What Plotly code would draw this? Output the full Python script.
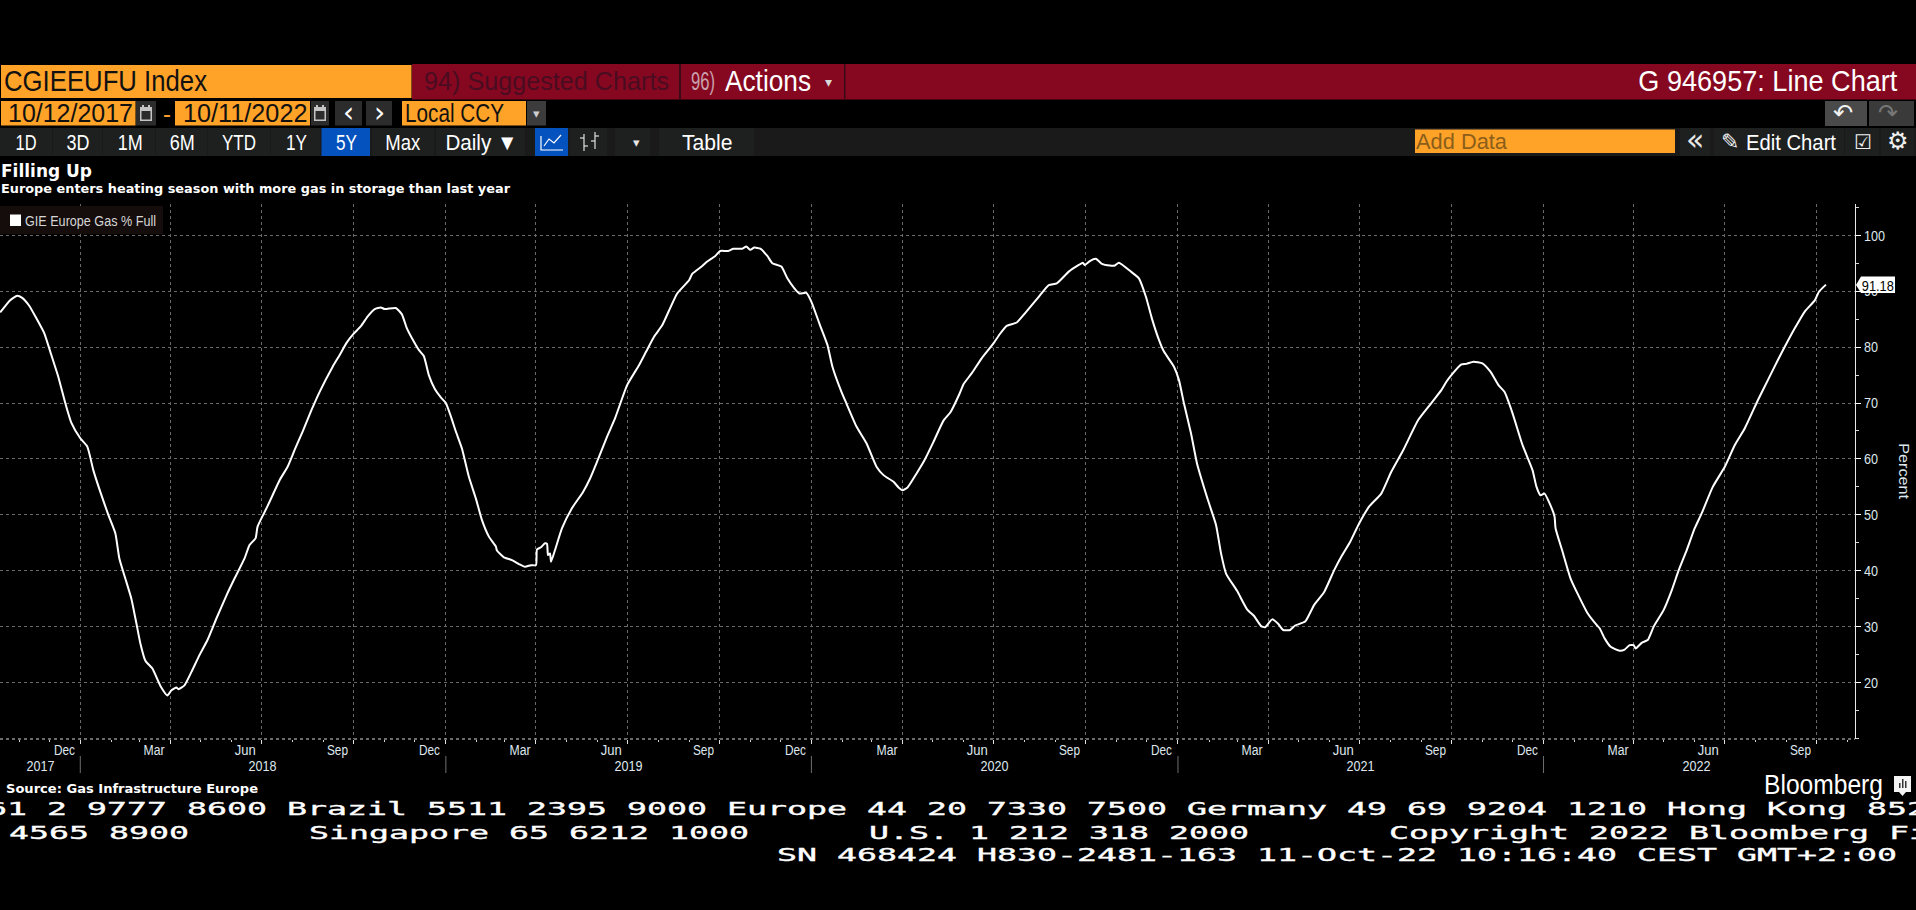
import json
import plotly.graph_objects as go

dates = [
"2017-10-13","2017-10-23","2017-10-30","2017-11-04","2017-11-11","2017-11-18","2017-11-26","2017-12-02","2017-12-10","2017-12-17","2017-12-23",
"2018-01-01","2018-01-08","2018-01-14","2018-01-21","2018-01-29","2018-02-05","2018-02-09","2018-02-16","2018-02-21","2018-02-26","2018-03-02","2018-03-07","2018-03-14","2018-03-22","2018-03-29",
"2018-04-02","2018-04-07","2018-04-09","2018-04-15","2018-04-22","2018-04-30","2018-05-08","2018-05-17","2018-05-27","2018-06-04","2018-06-14","2018-06-19","2018-06-25","2018-06-27",
"2018-07-06","2018-07-12","2018-07-19","2018-07-27","2018-08-03","2018-08-11","2018-08-20","2018-08-28","2018-09-10","2018-09-17","2018-09-24",
"2018-10-01","2018-10-08","2018-10-15","2018-10-22","2018-10-28","2018-11-01","2018-11-12","2018-11-18","2018-11-23","2018-11-30","2018-12-05","2018-12-10","2018-12-15","2018-12-21","2018-12-27",
"2019-01-01","2019-01-06","2019-01-11","2019-01-17","2019-01-24","2019-01-31","2019-02-06","2019-02-13","2019-02-20","2019-02-21","2019-02-28","2019-03-08","2019-03-15","2019-03-21","2019-03-27",
"2019-04-01","2019-04-02","2019-04-06","2019-04-10","2019-04-12","2019-04-13","2019-04-15","2019-04-16","2019-04-20","2019-04-27","2019-05-07","2019-05-18","2019-05-25","2019-06-01","2019-06-11","2019-06-19",
"2019-07-01","2019-07-13","2019-07-20","2019-07-28","2019-08-05","2019-08-12","2019-08-20","2019-09-01","2019-09-04","2019-09-14","2019-09-19","2019-09-27",
"2019-10-02","2019-10-10","2019-10-15","2019-10-24","2019-10-28","2019-11-01","2019-11-05","2019-11-11","2019-11-18","2019-11-23","2019-12-02","2019-12-08","2019-12-15","2019-12-20","2019-12-27",
"2020-01-01","2020-01-09","2020-01-17","2020-01-22","2020-01-31","2020-02-05","2020-02-15","2020-02-25","2020-03-06","2020-03-13","2020-03-23","2020-03-28",
"2020-04-01","2020-04-06","2020-04-15","2020-04-23","2020-05-02","2020-05-12","2020-05-19","2020-05-28","2020-06-01","2020-06-09","2020-06-19",
"2020-07-01","2020-07-07","2020-07-14","2020-07-24","2020-08-01","2020-08-15","2020-08-25","2020-09-02","2020-09-14","2020-09-24","2020-09-28","2020-09-30",
"2020-10-05","2020-10-11","2020-10-17","2020-10-25","2020-10-30","2020-11-03","2020-11-15","2020-11-23","2020-11-30","2020-12-06","2020-12-13","2020-12-18","2020-12-28",
"2021-01-02","2021-01-07","2021-01-14","2021-01-20","2021-01-31","2021-02-08","2021-02-13","2021-02-18","2021-03-01","2021-03-11","2021-03-18","2021-03-25","2021-03-29",
"2021-04-05","2021-04-11","2021-04-16","2021-04-23","2021-04-28","2021-05-08","2021-05-17","2021-05-27","2021-06-06","2021-06-14","2021-06-22",
"2021-07-01","2021-07-11","2021-07-23","2021-08-02","2021-08-14","2021-08-29","2021-09-11","2021-09-21","2021-09-26",
"2021-10-01","2021-10-11","2021-10-16","2021-10-23","2021-11-01","2021-11-09","2021-11-17","2021-11-23","2021-12-01","2021-12-11","2021-12-21","2021-12-25","2021-12-29",
"2022-01-02","2022-01-07","2022-01-12","2022-01-13","2022-01-20","2022-01-28","2022-02-04","2022-02-14","2022-02-23","2022-02-26","2022-03-03","2022-03-09","2022-03-18","2022-03-23","2022-03-28",
"2022-04-01","2022-04-03","2022-04-09","2022-04-15","2022-04-21","2022-05-01","2022-05-09","2022-05-16","2022-05-24","2022-06-01","2022-06-08","2022-06-19",
"2022-07-01","2022-07-11","2022-07-21","2022-08-03","2022-08-13","2022-08-23","2022-08-30","2022-09-09","2022-09-19","2022-09-29","2022-10-03","2022-10-10",
]
percent_full = [
86.2,88.4,89.2,88.8,87.4,85.2,82.5,79.2,74.7,70.0,66.5,
63.7,62.2,58.0,54.1,50.0,46.7,42.2,38.0,35.0,30.6,27.0,23.9,22.5,19.4,17.7,
18.6,19.1,18.8,19.5,21.9,24.9,27.6,31.5,35.6,38.6,42.2,44.6,45.8,47.9,
51.2,53.5,56.2,58.6,61.6,64.9,68.8,72.0,76.5,78.6,80.8,
82.4,83.7,85.5,86.8,87.1,86.8,87.0,85.9,83.4,81.0,79.5,78.4,75.0,72.5,71.0,
70.0,67.6,64.9,61.9,56.8,52.9,49.1,46.1,44.3,43.6,42.4,41.9,41.2,40.7,41.0,
41.0,43.8,44.2,44.9,44.8,42.8,43.1,41.6,43.7,47.6,51.2,54.1,56.5,59.5,64.0,67.3,
73.2,76.8,79.2,81.9,83.9,86.6,89.6,92.0,93.1,94.5,95.3,96.3,
97.2,97.2,97.6,97.6,98.0,97.4,97.8,97.6,96.3,95.0,94.4,92.3,90.5,89.6,89.7,
88.1,84.2,80.4,76.5,72.0,69.9,65.8,62.8,58.6,57.1,55.9,54.9,
54.4,54.9,57.4,59.8,63.1,66.9,68.4,71.7,73.4,75.3,78.0,
80.7,82.3,83.8,84.4,86.0,89.0,91.1,91.4,93.5,94.7,95.1,94.7,
95.4,95.8,94.9,94.6,94.6,95.1,93.5,92.3,89.0,85.1,81.3,79.2,76.5,
74.1,69.9,64.6,59.2,52.6,48.2,43.1,39.5,36.4,33.1,31.9,30.1,29.9,
31.3,30.5,29.4,29.4,30.2,30.9,33.9,36.2,40.1,42.8,45.2,
48.5,51.5,53.8,57.7,61.6,67.0,70.0,72.3,73.8,
75.0,76.9,77.0,77.4,77.1,75.6,73.2,72.0,68.2,62.5,58.0,55.0,53.5,
53.8,52.1,49.7,47.6,43.4,38.6,35.9,32.4,30.3,29.7,27.9,26.4,25.7,25.9,26.7,
26.7,26.1,27.1,27.6,30.0,33.0,36.5,40.1,43.7,47.6,50.3,55.0,
58.6,62.5,65.5,70.5,74.1,77.7,80.1,83.4,86.4,88.4,89.9,91.18,
]
quarter_starts = [
"2018-01-01","2018-04-01","2018-07-01","2018-10-01","2019-01-01","2019-04-01","2019-07-01","2019-10-01",
"2020-01-01","2020-04-01","2020-07-01","2020-10-01","2021-01-01","2021-04-01","2021-07-01","2021-10-01",
"2022-01-01","2022-04-01","2022-07-01","2022-10-01",
]
month_label_dates = [
"2017-12-16","2018-03-16","2018-06-15","2018-09-15","2018-12-16","2019-03-16","2019-06-15","2019-09-15",
"2019-12-16","2020-03-16","2020-06-15","2020-09-15","2020-12-16","2021-03-16","2021-06-15","2021-09-15",
"2021-12-16","2022-03-16","2022-06-15","2022-09-15",
]
month_labels = ["Dec","Mar","Jun","Sep"] * 5
year_label_dates = ["2017-11-22","2018-07-02","2019-07-02","2020-07-02","2021-07-02","2022-06-03"]
year_labels = ["2017","2018","2019","2020","2021","2022"]
year_starts = ["2018-01-01","2019-01-01","2020-01-01","2021-01-01","2022-01-01"]
y_ticks = [20,30,40,50,60,70,80,90,100]

L, R, T, B = 0, 1855, 204, 739
ORANGE = "#ffa228"
RED = "#860820"
BAR = "#1a1a1a"
NARROW = "Liberation Sans Narrow, Liberation Sans, sans-serif"
DEJA = "DejaVu Sans, sans-serif"
MONO = "DejaVu Sans Mono, monospace"

def fx(p): return (p - L) / (R - L)
def fy(p): return (B - p) / (B - T)

shapes, annos, widths = [], [], {}

def rect(x0, y0, x1, y1, color):
    shapes.append(dict(type="rect", xref="paper", yref="paper", x0=fx(x0), x1=fx(x1), y0=fy(y1), y1=fy(y0),
                       fillcolor=color, line_width=0, layer="above"))

def poly(points, color=None, line=None, lw=1.2, close=False):
    d = "M " + " L ".join(f"{fx(a):.5f} {fy(b):.5f}" for a, b in points) + (" Z" if close else "")
    shapes.append(dict(type="path", xref="paper", yref="paper", path=d, fillcolor=color,
                       line=dict(color=line or "rgba(0,0,0,0)", width=lw if line else 0), layer="above"))

def txt(x, y, s, size=21, color="#ffffff", anchor="left", family=NARROW, w=None, bold=False, angle=0):
    if w:
        widths[s] = w
    annos.append(dict(xref="paper", yref="paper", x=fx(x), y=fy(y), text=f"<b>{s}</b>" if bold else s,
                      showarrow=False, xanchor="center" if anchor == "middle" else anchor, yanchor="middle",
                      borderpad=0, borderwidth=0,
                      font=dict(family=family, size=size, color=color), align="center" if anchor == "middle" else anchor,
                      textangle=angle))

# --- terminal header rows
rect(412, 64, 1916, 99.5, RED)
rect(1, 65, 411.5, 98, ORANGE)
rect(679, 64, 681, 99.5, "#3a0a16")
rect(844, 64, 845.5, 99.5, "#3a0a16")
txt(4, 81.5, "CGIEEUFU Index", 29, "#111111", w=203)
txt(424, 81.5, "94) Suggested Charts", 25, "#4a0c20", w=245)
txt(691, 81.5, "96)", 25, "#c9a0ac", w=24)
txt(724.5, 81.5, "Actions", 29, "#ffffff", w=86)
txt(828, 82, "▾", 14, "#d8d8d8", "middle", DEJA)
txt(1897, 81.5, "G 946957: Line Chart", 29, "#ffffff", "right", w=259)

rect(1, 101, 135.5, 125.5, ORANGE)
rect(136, 101, 156, 125.5, "#2c2c2c")
rect(175, 101, 310, 125.5, ORANGE)
rect(311, 101, 329, 125.5, "#2c2c2c")
rect(335, 101, 362, 125.5, "#2c2c2c")
rect(366, 101, 392, 125.5, "#2c2c2c")
rect(402, 101, 526, 125.5, ORANGE)
rect(527, 101, 546, 125.5, "#3c3c3c")
for cx in (146, 320):
    rect(cx - 6, 107, cx + 6, 121, "#c4c4c4")
    rect(cx - 4.5, 111, cx + 4.5, 119.5, "#2c2c2c")
    rect(cx - 4, 105, cx - 2, 108, "#c4c4c4")
    rect(cx + 2, 105, cx + 4, 108, "#c4c4c4")
txt(8, 113.5, "10/12/2017", 25, "#111111", w=125)
txt(166.5, 113.5, "-", 24, ORANGE, "middle")
txt(182.5, 113.5, "10/11/2022", 25, "#111111", w=124.5)
txt(348.5, 113, "‹", 28, "#ffffff", "middle", DEJA)
txt(379, 113, "›", 28, "#ffffff", "middle", DEJA)
txt(405, 113.5, "Local CCY", 25, "#111111", w=99)
txt(536.5, 114, "▾", 13, "#cfcfcf", "middle", DEJA)
rect(1825, 101, 1867, 126, "#4a4a4a")
rect(1869, 101, 1914, 126, "#3a3a3a")
txt(1843, 113.5, "↶", 24, "#f2f2f2", "middle", DEJA)
txt(1888, 113.5, "↷", 24, "#777777", "middle", DEJA)

rect(0, 128, 1916, 156, BAR)
buttons = [(0, 52, 26, "1D", 21), (53, 102, 78, "3D", 23), (103, 155, 130, "1M", 25), (156, 207, 182.5, "6M", 25),
           (208, 270, 239, "YTD", 34), (271, 320, 296, "1Y", 21), (372, 434, 403, "Max", 35), (436, 525, 481, "Daily ▼", 72)]
for a, b, c, s, w in buttons:
    rect(a, 128, b, 156, "#1e2020")
    txt(c, 142.5, s, 22, "#ffffff", "middle", w=w)
rect(321.5, 128, 370, 156, "#0452bd")
txt(346, 142.5, "5Y", 22, "#ffffff", "middle", w=21)
rect(535, 128, 568, 156, "#0452bd")
poly([(541, 136), (541, 150), (563, 150)], line="#ffffff")
poly([(544, 146), (549, 139), (554, 143), (561, 135)], line="#ffffff")
rect(570, 128, 607, 156, "#1e2020")
poly([(584, 134), (584, 151)], line="#e0e0e0")
poly([(595, 132), (595, 149)], line="#e0e0e0")
poly([(580, 138), (584, 138)], line="#e0e0e0")
poly([(584, 146), (588, 146)], line="#e0e0e0")
poly([(591, 141), (595, 141)], line="#e0e0e0")
poly([(595, 136), (599, 136)], line="#e0e0e0")
rect(615, 128, 650, 156, "#1e2020")
txt(636, 142.5, "▾", 13, "#e6e6e6", "middle", DEJA)
rect(659, 128, 754, 156, "#1e2020")
txt(707, 142.5, "Table", 22, "#ffffff", "middle", w=50.5)
rect(1415, 129.5, 1675, 153, ORANGE)
txt(1416, 142, "Add Data", 22, "#8b5e1a", w=91)
rect(1680, 128, 1710, 156, "#1e2020")
txt(1695, 140, "«", 30, "#e8e8e8", "middle", DEJA)
rect(1714, 128, 1844, 156, "#1e2020")
txt(1730, 142, "✎", 22, "#f0f0f0", "middle", DEJA)
txt(1746, 142.5, "Edit Chart", 22, "#ffffff", w=90)
rect(1845, 128, 1879, 156, "#1e2020")
txt(1863, 142, "☑", 20, "#f0f0f0", "middle", DEJA)
rect(1881, 128, 1914, 156, "#1e2020")
txt(1898, 141.5, "⚙", 24, "#f0f0f0", "middle", DEJA)

# --- titles
txt(1, 171, "Filling Up", 17, "#ffffff", family=DEJA, w=91, bold=True)
txt(1, 189, "Europe enters heating season with more gas in storage than last year", 12, "#ffffff", family=DEJA, w=509, bold=True)
rect(0, 206, 163, 234, "#150c0c")
rect(10, 214.5, 21, 226, "#ffffff")
txt(25, 221, "GIE Europe Gas % Full", 14, "#d6d6d6", w=131)

# --- value tag
poly([(1856, 285), (1861, 276.5), (1895, 276.5), (1895, 293), (1861, 293)], color="#ffffff", close=True)
txt(1878, 285, "91.18", 15, "#000000", "middle", w=32)
txt(1904, 471, "Percent", 14, "#dfe7ee", "middle", angle=90, w=56)

# --- footer
txt(6, 789, "Source: Gas Infrastructure Europe", 12, "#ffffff", family=DEJA, w=252, bold=True)
txt(1764, 785, "Bloomberg", 27, "#ffffff", w=119)
rect(1894, 776, 1911, 792, "#f4f4f4")
poly([(1899, 792), (1902.5, 796), (1906, 792)], color="#f4f4f4", close=True)
for bx, h in ((1899, 5), (1902, 9), (1905, 7)):
    rect(bx, 788 - h, bx + 1.5, 788, "#333333")

NB = "\u00a0"
ticker = [
    (-13.3, 808.7, "61 2 9777 8600 Brazil 5511 2395 9000 Europe 44 20 7330 7500 Germany 49 69 9204 1210 Hong Kong 852"),
    (9, 832, "4565 8900" + NB * 6 + "Singapore 65 6212 1000" + NB * 6 + "U.S. 1 212 318 2000" + NB * 7 + "Copyright 2022 Bloomberg Fi"),
    (777, 854.7, "SN 468424 H830-2481-163 11-Oct-22 10:16:40 CEST GMT+2:00"),
]
for x, y, s in ticker:
    txt(x, y, s.replace(" ", NB), 18, "#ffffff", family=MONO, w=len(s) * 20)

# --- axis furniture tied to the data scale
shapes.append(dict(type="line", xref="paper", yref="paper", x0=0, x1=1, y0=0, y1=0,
                   line=dict(color="#d8d8d8", width=1, dash="dot"), layer="above"))
for d in year_starts:
    shapes.append(dict(type="line", xref="x", yref="paper", x0=d, x1=d, y0=fy(756), y1=fy(773),
                       line=dict(color="#6e6e6e", width=1), layer="above"))
for d, s in zip(month_label_dates, month_labels):
    annos.append(dict(xref="x", yref="paper", x=d, y=fy(750), text=s, showarrow=False, xanchor="center",
                      yanchor="middle", font=dict(family=NARROW, size=14, color="#dfe7ee")))
    widths[s] = 21
for d, s in zip(year_label_dates, year_labels):
    annos.append(dict(xref="x", yref="paper", x=d, y=fy(765.5), text=s, showarrow=False, xanchor="center",
                      yanchor="middle", font=dict(family=NARROW, size=14, color="#dfe7ee")))
    widths[s] = 28

fig = go.Figure()
fig.add_trace(go.Scatter(x=dates, y=percent_full, mode="lines",
                         line=dict(color="#ffffff", width=2, shape="spline", smoothing=0.5),
                         hoverinfo="skip", showlegend=False))
fig.add_trace(go.Scatter(x=["2022-11-11"] * len(y_ticks), y=y_ticks, mode="markers", cliponaxis=False,
                         marker=dict(symbol="triangle-right", size=6, color="#ffffff"),
                         hoverinfo="skip", showlegend=False))

GRID = "#6a6a6a"
fig.update_layout(
    width=1916, height=910, margin=dict(l=L, r=1916 - R, t=T, b=910 - B, pad=0),
    paper_bgcolor="#000000", plot_bgcolor="#000000", showlegend=False,
    shapes=shapes, annotations=annos,
    xaxis=dict(type="date", range=["2017-10-12 20:00", "2022-11-08 00:00"], tickmode="array", tickvals=quarter_starts,
               showticklabels=False, showgrid=True, gridcolor=GRID, griddash="dot", gridwidth=1, zeroline=False,
               ticks="outside", ticklen=4, tickwidth=1, tickcolor="#e0e0e0", showline=False,
               minor=dict(dtick="M1", tick0="2018-01-01", ticks="outside", ticklen=2, tickwidth=1, tickcolor="#d0d0d0", showgrid=False)),
    yaxis=dict(side="right", range=[9.9, 105.6], tickmode="array", tickvals=y_ticks, showgrid=True, gridcolor=GRID,
               griddash="dot", gridwidth=1, zeroline=False, ticks="outside", ticklen=5, tickwidth=1, tickcolor="#ffffff",
               showline=True, linecolor="#e8e8e8", linewidth=1,
               tickfont=dict(family=NARROW, size=15, color="#dfe7ee"),
               minor=dict(dtick=5, tick0=0, ticks="outside", ticklen=3, tickwidth=1, tickcolor="#d8d8d8", showgrid=False)),
)

post = """
document.body.style.margin = '0';
document.body.style.background = '#000';
document.documentElement.style.overflow = 'hidden';
var W = %s;
var gd = document.getElementById('{plot_id}');
gd.querySelectorAll('text.annotation-text').forEach(function (t) {
  var w = W[t.textContent];
  if (w) {
    t.setAttribute('textLength', w);
    t.setAttribute('lengthAdjust', 'spacingAndGlyphs');
    var r = t.parentNode.querySelector('rect.bg');
    if (r) {
      var b = t.getBBox();
      r.setAttribute('x', b.x); r.setAttribute('y', b.y);
      r.setAttribute('width', b.width); r.setAttribute('height', b.height);
    }
  }
  if ((t.style.fontFamily || '').indexOf('Mono') >= 0) {
    t.style.stroke = '#ffffff'; t.style.strokeWidth = '0.35px';
  }
});
gd.querySelectorAll('.ytick text').forEach(function (t) {
  t.setAttribute('textLength', t.textContent.length * 7);
  t.setAttribute('lengthAdjust', 'spacingAndGlyphs');
});
""" % json.dumps(widths, ensure_ascii=True)

fig.write_html("out.html", config={"displayModeBar": False, "responsive": False}, post_script=post)
